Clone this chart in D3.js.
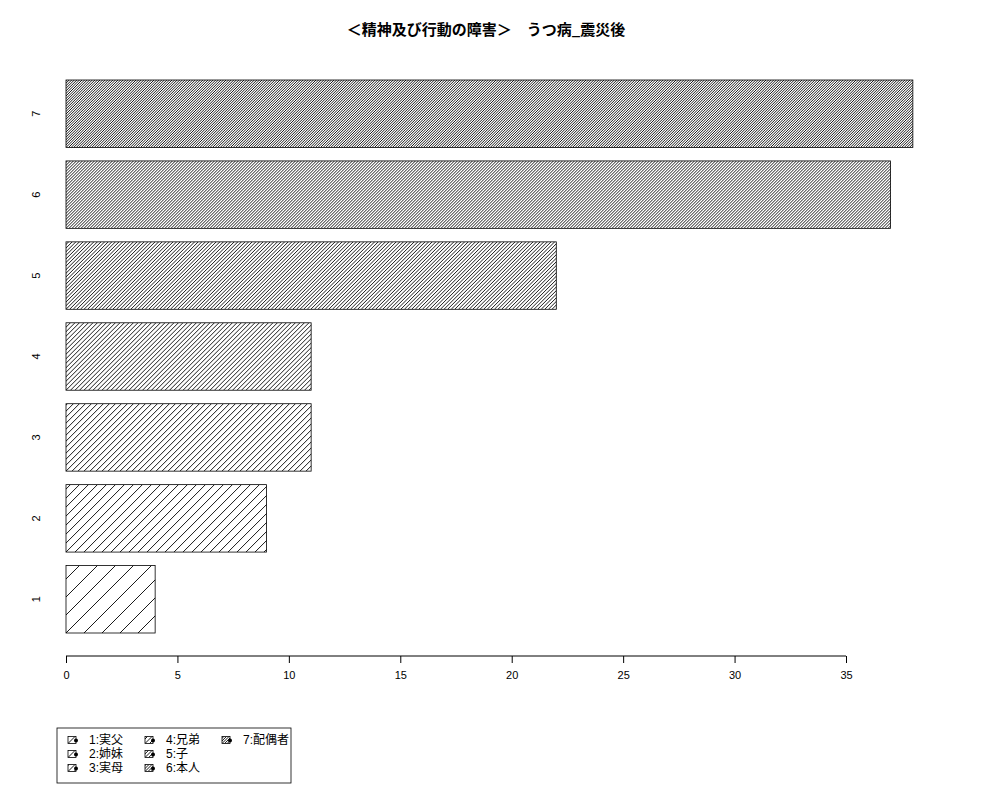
<!DOCTYPE html>
<html lang="ja">
<head>
    <meta charset="UTF-8">
    <title>うつ病_震災後</title>
    <script src="https://d3js.org/d3.v7.min.js"></script>
    <style>
        body { margin: 0; background: #fff; }
        text { font-family: 'Liberation Sans', 'Noto Sans CJK JP', sans-serif; font-size: 11px; }
        .title { font-family: 'Noto Sans CJK JP', sans-serif; font-size: 15px; font-weight: bold; }
        .jp { font-family: 'Liberation Sans', 'Noto Sans CJK JP', sans-serif; font-size: 12px; }
        .hatch { stroke: #000; stroke-width: 0.9; }
    </style>
</head>
<body>
<script>
    const width  = 1000;
    const height = 800;

    const categories = ["1", "2", "3", "4", "5", "6", "7"];
    const values = [4, 9, 11, 11, 22, 37, 38];
    const legendLabels = ["1:実父", "2:姉妹", "3:実母", "4:兄弟", "5:子", "6:本人", "7:配偶者"];
    const xTicks = [0, 5, 10, 15, 20, 25, 30, 35];
    const title = "＜精神及び行動の障害＞　うつ病_震災後";

    const svg = d3.select("body").append("svg")
        .attr("width", width).attr("height", height);
    const defs = svg.append("defs");

    // horizontal distance between hatch lines, denser for each category
    const hatchStep = i => 18 / (i + 1);

    // fill a box with 45 degree hatch lines, clipped to the box
    function hatch(g, id, bx, by, bw, bh, s) {
        defs.append("clipPath").attr("id", id)
            .append("rect").attr("x", bx).attr("y", by).attr("width", bw).attr("height", bh);
        const ks = d3.range(-Math.ceil(bh / s) - 1, Math.ceil(bw / s) + 1);
        g.append("g").attr("clip-path", `url(#${id})`)
            .selectAll("line").data(ks).enter()
            .append("line").attr("class", "hatch")
            .attr("x1", k => bx + k * s).attr("y1", by + bh)
            .attr("x2", k => bx + k * s + bh).attr("y2", by);
    }

    const x = d3.scaleLinear().domain([0, 35]).range([66, 846]);
    // R barplot layout: width 1, space 0.2
    const y = d3.scaleLinear().domain([0.2, 8.4]).range([633, 80]);
    const barH = y(0) - y(1);

    svg.append("text").attr("class", "title")
        .attr("x", 486).attr("y", 35)
        .attr("text-anchor", "middle")
        .text(title);

    const bars = svg.append("g");
    values.forEach((d, i) => {
        const by = y(0.2 + i * 1.2 + 1);
        hatch(bars, "bar" + i, x(0), by, x(d) - x(0), barH, hatchStep(i));
    });
    bars.selectAll("rect.bar")
        .data(values).enter()
        .append("rect").attr("class", "bar")
        .attr("x", x(0))
        .attr("y", (d, i) => y(0.2 + i * 1.2 + 1))
        .attr("width", d => x(d) - x(0))
        .attr("height", barH)
        .attr("fill", "none")
        .attr("stroke", "#000").attr("stroke-width", 0.8);

    // category labels, rotated
    svg.selectAll("text.cat")
        .data(categories).enter()
        .append("text").attr("class", "cat")
        .attr("transform", (d, i) => `translate(40,${y(0.2 + i * 1.2 + 0.5)}) rotate(-90)`)
        .attr("text-anchor", "middle")
        .text(d => d);

    const xAxis = svg.append("g")
        .attr("transform", "translate(0,656)")
        .call(d3.axisBottom(x).tickValues(xTicks).tickSize(7).tickPadding(8).tickFormat(d3.format("d")));
    xAxis.select(".domain").attr("stroke", "#000").attr("d", `M${x(0)},0H${x(35)}`);
    xAxis.selectAll("text").style("font-size", "11px").attr("font-family", null);

    // legend
    const lg = svg.append("g");
    lg.append("rect")
        .attr("x", 57).attr("y", 728).attr("width", 234).attr("height", 55)
        .attr("fill", "none").attr("stroke", "#000").attr("stroke-width", 0.8);
    legendLabels.forEach((d, i) => {
        const col = Math.floor(i / 3), row = i % 3;
        const lx = [68, 145, 222][col], ly = 740 + row * 14;
        hatch(lg, "leg" + i, lx, ly - 3.5, 8, 7, hatchStep(i));
        lg.append("rect")
            .attr("x", lx).attr("y", ly - 3.5).attr("width", 8).attr("height", 7)
            .attr("fill", "none").attr("stroke", "#000").attr("stroke-width", 0.8);
        lg.append("circle")
            .attr("cx", lx + 8).attr("cy", ly + 0.5).attr("r", 2).attr("fill", "#000");
        lg.append("text").attr("class", "jp")
            .attr("x", lx + 21).attr("y", ly + 4)
            .text(d);
    });
</script>
</body>
</html>
